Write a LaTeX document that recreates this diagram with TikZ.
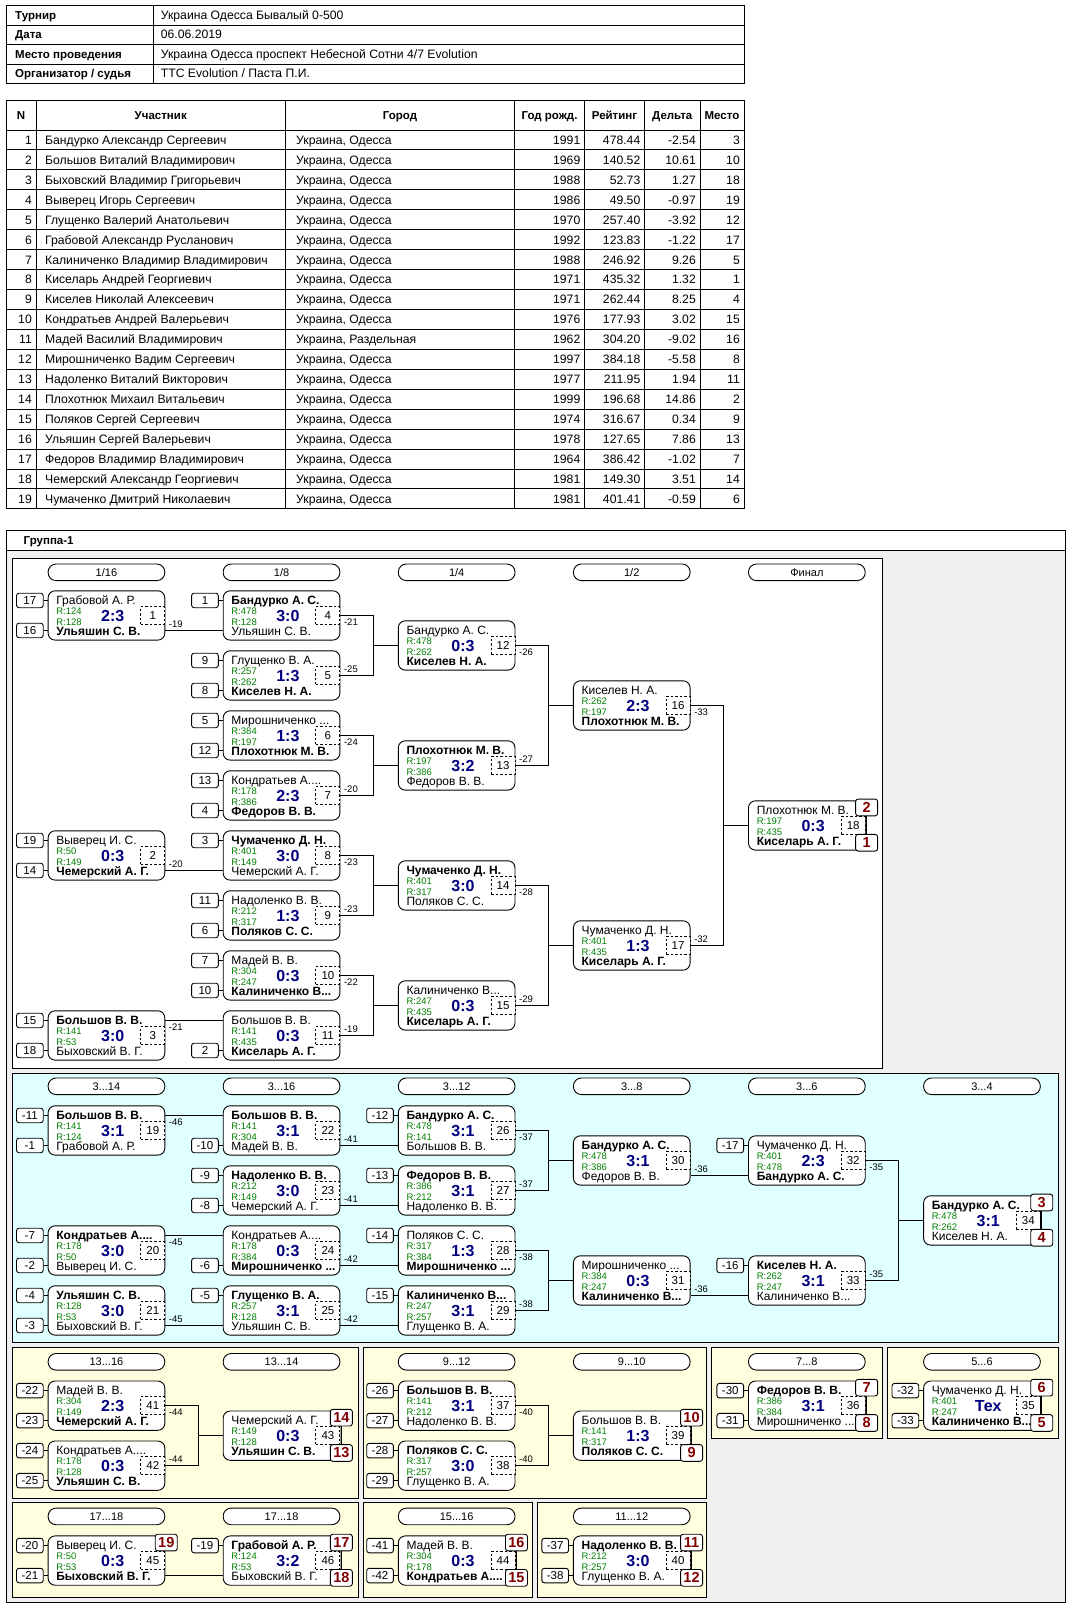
\documentclass[tikz,border=0pt]{standalone}
\usepackage{fontspec}
\setmainfont{Liberation Sans}
\usetikzlibrary{positioning,calc}
\definecolor{rtgreen}{HTML}{008000}
\definecolor{scblue}{HTML}{000080}
\definecolor{plred}{HTML}{800000}
\definecolor{panelcyan}{HTML}{E0FFFF}
\definecolor{panelyel}{HTML}{FFFFE0}
\definecolor{panelgrey}{HTML}{F0F0F0}
\tikzset{
  grid/.style={line width=0.9pt},
  ln/.style={line width=0.9pt},
  cell/.style={inner sep=0pt,font=\fontsize{12.2}{13}\selectfont},
  cellb/.style={inner sep=0pt,font=\fontsize{11.5}{13}\selectfont\bfseries},
  game/.style={draw,line width=0.9pt,fill=white,rounded corners=7pt,minimum width=116.7pt,
               minimum height=49.3pt,inner sep=0pt},
  pill/.style={draw,line width=0.9pt,fill=white,rounded corners=8pt,minimum width=116.7pt,
               minimum height=16.6pt,inner sep=0pt,font=\fontsize{11}{12}\selectfont},
  nm/.style={anchor=base west,inner sep=0pt,font=\fontsize{12}{12}\selectfont},
  rt/.style={anchor=base west,inner sep=0pt,text=rtgreen,font=\fontsize{9.5}{10}\selectfont},
  sc/.style={anchor=base,inner sep=0pt,text=scblue,font=\fontsize{16}{17}\selectfont\bfseries},
  gno/.style={draw,line width=0.9pt,dash pattern=on 2.5pt off 2pt,fill=white,anchor=east,
              minimum width=24pt,minimum height=17.5pt,inner sep=0pt,font=\fontsize{11.5}{12}\selectfont},
  seed/.style={draw,line width=0.9pt,fill=white,rounded corners=2.5pt,anchor=east,
               minimum width=26.7pt,minimum height=14.5pt,inner sep=0pt,font=\fontsize{11.5}{12}\selectfont},
  place/.style={draw,line width=0.9pt,fill=white,rounded corners=2.5pt,minimum width=22pt,
                minimum height=16.7pt,inner sep=0pt,text=plred,font=\fontsize{14.5}{15}\selectfont\bfseries},
  lbl/.style={anchor=west,inner sep=0pt,font=\fontsize{9.5}{10}\selectfont},
}
\newcommand{\winr}[1]{\textbf{#1}}
\newcommand{\rng}[2]{#1...#2}
% one match: name, left x, top y, upper player, lower player, ratings, score, number
\newcommand{\game}[9]{%
  \node[game] (#1) at ({#2+58.35},{#3+24.65}) {};
  \coordinate (#1-ea) at ($(#1.east)+(0,-15)$);
  \coordinate (#1-eb) at ($(#1.east)+(0,15)$);
  \coordinate (#1-wa) at ($(#1.west)+(0,-15)$);
  \coordinate (#1-wb) at ($(#1.west)+(0,15)$);
  \node[nm] (#1-a) at ($(#1.west)+(8.5,-10.7)$) {#4};
  \node[nm] (#1-b) at ($(#1.west)+(8.5,19.9)$) {#5};
  \node[rt] (#1-r) at ($(#1.west)+(8.5,-1.2)$) {R:#6};
  \node[rt] (#1-s) at ($(#1.west)+(8.5,9.8)$) {R:#7};
  \node[sc] (#1-c) at ($(#1.center)+(6.3,5.7)$) {#8};
  \node[gno] (#1-n) at ($(#1.east)+(0,-0.2)$) {#9};
}
\newcommand{\seeda}[2]{\node[seed] (#1-sa) at ($(#1-wa)+(-4,0)$) {#2}; \draw[ln] (#1-sa) -- (#1-wa);}
\newcommand{\seedb}[2]{\node[seed] (#1-sb) at ($(#1-wb)+(-4,0)$) {#2}; \draw[ln] (#1-sb) -- (#1-wb);}
\newcommand{\placea}[2]{\node[place] (#1-pa) at ($(#1.east)+(1,-18)$) {#2};}
\newcommand{\placeb}[2]{\node[place] (#1-pb) at ($(#1.east)+(1,17.3)$) {#2};}
\newcommand{\joinup}[3]{%
  \coordinate (#3-j) at ($(#3.west)+(-24.4,0)$);
  \draw[ln] (#1.east) -| (#3-j) |- (#2.east);
  \draw[ln] (#3-j) -- (#3.west);
}

\begin{document}
\begin{tikzpicture}[x=1pt,y=-1pt]
\fill[white] (0,0) rectangle (1070,1605);
\useasboundingbox (0,0) rectangle (1070,1605);

% ------------------------------------------------ tournament card
\foreach \k/\v [count=\n from 0] in {Турнир/{Украина Одесса Бывалый 0-500}, Дата/06.06.2019,
  {Место проведения}/{Украина Одесса проспект Небесной Сотни 4/7 Evolution},
  {Организатор / судья}/{TTC Evolution / Паста П.И.}}{
  \draw[grid] (6,{5.5+19.5*\n}) rectangle (744,{25+19.5*\n});
  \draw[grid] (153,{5.5+19.5*\n}) -- (153,{25+19.5*\n});
  \node[cellb,anchor=base west] (card-k\n) at (15,{19.4+19.5*\n}) {\k};
  \node[cell,anchor=base west] (card-v\n) at (160.7,{19.4+19.5*\n}) {\v};
}

% ------------------------------------------------ participants
\draw[grid] (6,100.3) rectangle (744,508.9);
\foreach \yy in {0,...,18} \draw[grid] (6,{130+19.94*\yy}) -- (744,{130+19.94*\yy});
\foreach \xx in {36,285.5,514.5,584.5,644.5,700} \draw[grid] (\xx,100.3) -- (\xx,508.9);
\foreach \t/\xa/\xb [count=\i] in {N/6/36, Участник/36/285.5, Город/285.5/514.5,
  {Год рожд.}/514.5/584.5, Рейтинг/584.5/644.5, Дельта/644.5/700, Место/700/744}
  {\node[cellb,anchor=base] (hd\i) at ({(\xa+\xb)/2},119.3) {\t};}
\foreach \p/\c/\yr/\rt/\dl/\pl [count=\n] in {
  {Бандурко Александр Сергеевич}/{Украина, Одесса}/1991/478.44/-2.54/3,
  {Большов Виталий Владимирович}/{Украина, Одесса}/1969/140.52/10.61/10,
  {Быховский Владимир Григорьевич}/{Украина, Одесса}/1988/52.73/1.27/18,
  {Выверец Игорь Сергеевич}/{Украина, Одесса}/1986/49.50/-0.97/19,
  {Глущенко Валерий Анатольевич}/{Украина, Одесса}/1970/257.40/-3.92/12,
  {Грабовой Александр Русланович}/{Украина, Одесса}/1992/123.83/-1.22/17,
  {Калиниченко Владимир Владимирович}/{Украина, Одесса}/1988/246.92/9.26/5,
  {Киселарь Андрей Георгиевич}/{Украина, Одесса}/1971/435.32/1.32/1,
  {Киселев Николай Алексеевич}/{Украина, Одесса}/1971/262.44/8.25/4,
  {Кондратьев Андрей Валерьевич}/{Украина, Одесса}/1976/177.93/3.02/15,
  {Мадей Василий Владимирович}/{Украина, Раздельная}/1962/304.20/-9.02/16,
  {Мирошниченко Вадим Сергеевич}/{Украина, Одесса}/1997/384.18/-5.58/8,
  {Надоленко Виталий Викторович}/{Украина, Одесса}/1977/211.95/1.94/11,
  {Плохотнюк Михаил Витальевич}/{Украина, Одесса}/1999/196.68/14.86/2,
  {Поляков Сергей Сергеевич}/{Украина, Одесса}/1974/316.67/0.34/9,
  {Ульяшин Сергей Валерьевич}/{Украина, Одесса}/1978/127.65/7.86/13,
  {Федоров Владимир Владимирович}/{Украина, Одесса}/1964/386.42/-1.02/7,
  {Чемерский Александр Георгиевич}/{Украина, Одесса}/1981/149.30/3.51/14,
  {Чумаченко Дмитрий Николаевич}/{Украина, Одесса}/1981/401.41/-0.59/6}{
  \pgfmathsetmacro{\yc}{130+19.94*(\n-0.5)+4.4}
  \node[cell,anchor=base east] (tn\n) at (32,\yc) {\n};
  \node[cell,anchor=base west] (tp\n) at (45,\yc) {\p};
  \node[cell,anchor=base west] (tc\n) at (296,\yc) {\c};
  \node[cell,anchor=base east] (ty\n) at (580.5,\yc) {\yr};
  \node[cell,anchor=base east] (tr\n) at (640.5,\yc) {\rt};
  \node[cell,anchor=base east] (td\n) at (696,\yc) {\dl};
  \node[cell,anchor=base east] (tm\n) at (740,\yc) {\pl};
}

% ------------------------------------------------ group frame and panels
\fill[panelgrey] (6.1,550) rectangle (1065,1602);
\draw[grid] (6.1,530.4) rectangle (1065,1602);
\draw[grid] (6.1,550) -- (1065,550);
\node[cellb,anchor=base west] (grp) at (23.5,544.6) {Группа-1};
\draw[grid,fill=white] (12.3,558) rectangle (882.6,1068);
\draw[grid,fill=panelcyan] (12.3,1073) rectangle (1058.7,1342);
\draw[grid,fill=panelyel] (12.3,1347.5) rectangle (358,1498);
\draw[grid,fill=panelyel] (363.5,1347.5) rectangle (706.5,1498);
\draw[grid,fill=panelyel] (711.6,1347.5) rectangle (882.6,1438.6);
\draw[grid,fill=panelyel] (887.7,1347.5) rectangle (1058.7,1438.6);
\draw[grid,fill=panelyel] (12.3,1502) rectangle (358,1597);
\draw[grid,fill=panelyel] (363.5,1502) rectangle (532.4,1597);
\draw[grid,fill=panelyel] (537.5,1502) rectangle (706.5,1597);

% round headers
\foreach \t [count=\i from 0] in {1/16,1/8,1/4,1/2,Финал}
  \node[pill] (hm\i) at ({106.45+175.1*\i},572.3) {\t};
\foreach \t [count=\i from 0] in {\rng{3}{14},\rng{3}{16},\rng{3}{12},\rng{3}{8},\rng{3}{6},\rng{3}{4}}
  \node[pill] (hc\i) at ({106.45+175.1*\i},1086.3) {\t};
\foreach \t [count=\i from 0] in {\rng{13}{16},\rng{13}{14},\rng{9}{12},\rng{9}{10},\rng{7}{8},\rng{5}{6}}
  \node[pill] (hy\i) at ({106.45+175.1*\i},1361.8) {\t};
\foreach \t [count=\i from 0] in {\rng{17}{18},\rng{17}{18},\rng{15}{16},\rng{11}{12}}
  \node[pill] (hz\i) at ({106.45+175.1*\i},1516.4) {\t};

\def\Xa{48.1}\def\Xb{223.2}\def\Xc{398.3}\def\Xd{573.4}\def\Xe{748.5}\def\Xf{923.6}

% ------------------------------------------------ main draw
\game{g1}{\Xa}{590.8}{Грабовой А. Р.}{\winr{Ульяшин С. В.}}{124}{128}{2:3}{1}
\game{g2}{\Xa}{830.8}{Выверец И. С.}{\winr{Чемерский А. Г.}}{50}{149}{0:3}{2}
\game{g3}{\Xa}{1010.8}{\winr{Большов В. В.}}{Быховский В. Г.}{141}{53}{3:0}{3}
\game{g4}{\Xb}{590.8}{\winr{Бандурко А. С.}}{Ульяшин С. В.}{478}{128}{3:0}{4}
\game{g5}{\Xb}{650.8}{Глущенко В. А.}{\winr{Киселев Н. А.}}{257}{262}{1:3}{5}
\game{g6}{\Xb}{710.8}{Мирошниченко ...}{\winr{Плохотнюк М. В.}}{384}{197}{1:3}{6}
\game{g7}{\Xb}{770.8}{Кондратьев А....}{\winr{Федоров В. В.}}{178}{386}{2:3}{7}
\game{g8}{\Xb}{830.8}{\winr{Чумаченко Д. Н.}}{Чемерский А. Г.}{401}{149}{3:0}{8}
\game{g9}{\Xb}{890.8}{Надоленко В. В.}{\winr{Поляков С. С.}}{212}{317}{1:3}{9}
\game{g10}{\Xb}{950.8}{Мадей В. В.}{\winr{Калиниченко В...}}{304}{247}{0:3}{10}
\game{g11}{\Xb}{1010.8}{Большов В. В.}{\winr{Киселарь А. Г.}}{141}{435}{0:3}{11}
\game{g12}{\Xc}{620.8}{Бандурко А. С.}{\winr{Киселев Н. А.}}{478}{262}{0:3}{12}
\game{g13}{\Xc}{740.8}{\winr{Плохотнюк М. В.}}{Федоров В. В.}{197}{386}{3:2}{13}
\game{g14}{\Xc}{860.8}{\winr{Чумаченко Д. Н.}}{Поляков С. С.}{401}{317}{3:0}{14}
\game{g15}{\Xc}{980.8}{Калиниченко В...}{\winr{Киселарь А. Г.}}{247}{435}{0:3}{15}
\game{g16}{\Xd}{680.8}{Киселев Н. А.}{\winr{Плохотнюк М. В.}}{262}{197}{2:3}{16}
\game{g17}{\Xd}{920.8}{Чумаченко Д. Н.}{\winr{Киселарь А. Г.}}{401}{435}{1:3}{17}
\game{g18}{\Xe}{800.8}{Плохотнюк М. В.}{\winr{Киселарь А. Г.}}{197}{435}{0:3}{18}

% ------------------------------------------------ places 3..14
\game{g19}{\Xa}{1105.8}{\winr{Большов В. В.}}{Грабовой А. Р.}{141}{124}{3:1}{19}
\game{g20}{\Xa}{1225.8}{\winr{Кондратьев А....}}{Выверец И. С.}{178}{50}{3:0}{20}
\game{g21}{\Xa}{1285.8}{\winr{Ульяшин С. В.}}{Быховский В. Г.}{128}{53}{3:0}{21}
\game{g22}{\Xb}{1105.8}{\winr{Большов В. В.}}{Мадей В. В.}{141}{304}{3:1}{22}
\game{g23}{\Xb}{1165.8}{\winr{Надоленко В. В.}}{Чемерский А. Г.}{212}{149}{3:0}{23}
\game{g24}{\Xb}{1225.8}{Кондратьев А....}{\winr{Мирошниченко ...}}{178}{384}{0:3}{24}
\game{g25}{\Xb}{1285.8}{\winr{Глущенко В. А.}}{Ульяшин С. В.}{257}{128}{3:1}{25}
\game{g26}{\Xc}{1105.8}{\winr{Бандурко А. С.}}{Большов В. В.}{478}{141}{3:1}{26}
\game{g27}{\Xc}{1165.8}{\winr{Федоров В. В.}}{Надоленко В. В.}{386}{212}{3:1}{27}
\game{g28}{\Xc}{1225.8}{Поляков С. С.}{\winr{Мирошниченко ...}}{317}{384}{1:3}{28}
\game{g29}{\Xc}{1285.8}{\winr{Калиниченко В...}}{Глущенко В. А.}{247}{257}{3:1}{29}
\game{g30}{\Xd}{1135.8}{\winr{Бандурко А. С.}}{Федоров В. В.}{478}{386}{3:1}{30}
\game{g31}{\Xd}{1255.8}{Мирошниченко ...}{\winr{Калиниченко В...}}{384}{247}{0:3}{31}
\game{g32}{\Xe}{1135.8}{Чумаченко Д. Н.}{\winr{Бандурко А. С.}}{401}{478}{2:3}{32}
\game{g33}{\Xe}{1255.8}{\winr{Киселев Н. А.}}{Калиниченко В...}{262}{247}{3:1}{33}
\game{g34}{\Xf}{1195.8}{\winr{Бандурко А. С.}}{Киселев Н. А.}{478}{262}{3:1}{34}

% ------------------------------------------------ lower places
\game{g41}{\Xa}{1381}{Мадей В. В.}{\winr{Чемерский А. Г.}}{304}{149}{2:3}{41}
\game{g42}{\Xa}{1441}{Кондратьев А....}{\winr{Ульяшин С. В.}}{178}{128}{0:3}{42}
\game{g43}{\Xb}{1411}{Чемерский А. Г.}{\winr{Ульяшин С. В.}}{149}{128}{0:3}{43}
\game{g37}{\Xc}{1381}{\winr{Большов В. В.}}{Надоленко В. В.}{141}{212}{3:1}{37}
\game{g38}{\Xc}{1441}{\winr{Поляков С. С.}}{Глущенко В. А.}{317}{257}{3:0}{38}
\game{g39}{\Xd}{1411}{Большов В. В.}{\winr{Поляков С. С.}}{141}{317}{1:3}{39}
\game{g36}{\Xe}{1381}{\winr{Федоров В. В.}}{Мирошниченко ...}{386}{384}{3:1}{36}
\game{g35}{\Xf}{1381}{Чумаченко Д. Н.}{\winr{Калиниченко В...}}{401}{247}{Тех}{35}
\game{g45}{\Xa}{1535.9}{Выверец И. С.}{\winr{Быховский В. Г.}}{50}{53}{0:3}{45}
\game{g46}{\Xb}{1535.9}{\winr{Грабовой А. Р.}}{Быховский В. Г.}{124}{53}{3:2}{46}
\game{g44}{\Xc}{1535.9}{Мадей В. В.}{\winr{Кондратьев А....}}{304}{178}{0:3}{44}
\game{g40}{\Xd}{1535.9}{\winr{Надоленко В. В.}}{Глущенко В. А.}{212}{257}{3:0}{40}

% seeds coming in from the left
\foreach \g/\a/\b in {g1/17/16, g2/19/14, g3/15/18, g5/9/8, g6/5/12, g7/13/4, g9/11/6,
  g10/7/10, g19/-11/-1, g20/-7/-2, g21/-4/-3, g23/-9/-8, g41/-22/-23, g42/-24/-25,
  g37/-26/-27, g38/-28/-29, g36/-30/-31, g35/-32/-33, g45/-20/-21, g44/-41/-42, g40/-37/-38}
  {\seeda{\g}{\a}\seedb{\g}{\b}}
\foreach \g/\a in {g4/1, g8/3, g25/-5, g26/-12, g27/-13, g28/-14, g29/-15, g32/-17, g33/-16, g46/-19}
  {\seeda{\g}{\a}}
\foreach \g/\b in {g11/2, g22/-10, g24/-6}
  {\seedb{\g}{\b}}

% final places
\foreach \g/\a/\b in {g18/2/1, g34/3/4, g43/14/13, g39/10/9, g36/7/8, g35/6/5,
  g46/17/18, g44/16/15, g40/11/12}
  {\placea{\g}{\a}\placeb{\g}{\b}\draw[ln] (\g-pa) -- (\g-pb);}
\placea{g45}{19}

% where the loser goes
\foreach \g/\o/\t in {g1/8.5/-19, g2/8.5/-20, g3/-8.5/-21, g4/6.5/-21, g5/-6.5/-25,
  g6/6.5/-24, g7/-6.5/-20, g8/6.5/-23, g9/-6.5/-23, g10/6.5/-22, g11/-6.5/-19,
  g12/6.5/-26, g13/-6.5/-27, g14/6.5/-28, g15/-6.5/-29, g16/6.5/-33, g17/-6.5/-32,
  g19/-8.5/-46, g20/-8.5/-45, g21/8.5/-45, g22/8.5/-41, g23/8.5/-41, g24/8.5/-42,
  g25/8.5/-42, g26/6.5/-37, g27/-6.5/-37, g28/6.5/-38, g29/-6.5/-38, g30/8.5/-36,
  g31/8.5/-36, g32/6.5/-35, g33/-6.5/-35, g41/6.5/-44, g42/-6.5/-44, g37/6.5/-40, g38/-6.5/-40}
  {\node[lbl] (\g-l) at ($(\g.east)+(3.5,\o)$) {\t};}

% winners moving on
\foreach \s/\t in {g1-eb/g4-wb, g2-eb/g8-wb, g3-ea/g11-wa, g19-ea/g22-wa, g20-ea/g24-wa,
  g21-eb/g25-wb, g22-eb/g26-wb, g23-eb/g27-wb, g24-eb/g28-wb, g25-eb/g29-wb,
  g30-eb/g32-wb, g31-eb/g33-wb, g45-eb/g46-wb}
  {\draw[ln] (\s) -- (\t);}
\foreach \u/\l/\t in {g4/g5/g12, g6/g7/g13, g8/g9/g14, g10/g11/g15, g12/g13/g16,
  g14/g15/g17, g16/g17/g18, g26/g27/g30, g28/g29/g31, g32/g33/g34, g41/g42/g43, g37/g38/g39}
  {\joinup{\u}{\l}{\t}}

\end{tikzpicture}
\end{document}
